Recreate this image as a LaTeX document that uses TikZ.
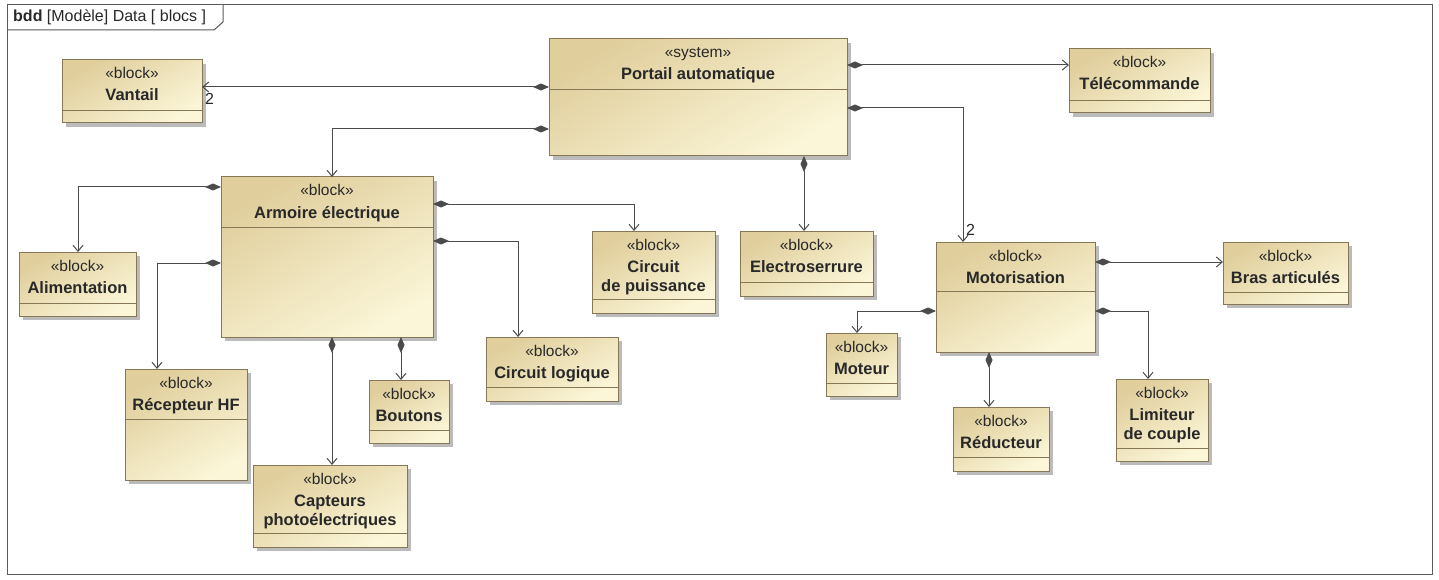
\documentclass[tikz,border=0pt]{standalone}
\usepackage{fontspec}
\setmainfont{Liberation Sans}
\usetikzlibrary{arrows.meta,shadows,fit,calc}
\definecolor{tanL}{RGB}{224,206,156}
\definecolor{creamR}{RGB}{251,246,216}
\definecolor{bordc}{RGB}{135,120,85}
\definecolor{linec}{RGB}{75,75,75}
\definecolor{framec}{RGB}{90,90,90}
\definecolor{shadc}{RGB}{170,170,170}
\definecolor{txtc}{RGB}{40,40,40}
\tikzset{
  blockbox/.style={draw=bordc, line width=1pt, left color=tanL, right color=creamR, shading angle=30,
    inner sep=0pt, outer sep=0pt,
    drop shadow={shadow xshift=4pt, shadow yshift=-4pt, fill=shadc, opacity=0.8}},
  compline/.style={draw=bordc, line width=0.9pt},
  stereo/.style={anchor=base, inner sep=0pt, font=\fontsize{15.5}{18}\selectfont, text=txtc},
  nm/.style={anchor=base, inner sep=0pt, font=\fontsize{16.5}{19}\selectfont\bfseries, text=txtc},
  comp/.style={draw=linec, line width=1pt, {Diamond[length=16pt,width=7pt]}-{Straight Barb[length=6pt,width=10pt]}},
  mult/.style={inner sep=0pt, font=\fontsize{16}{18}\selectfont, text=txtc}
}
\newcommand\mkblock[7]{%
  \node[blockbox, fit={(#2,#3) (#4,#5)}] (#1) {};
  \draw[compline] (#2,#6) -- (#4,#6);
  \node[stereo] (#1-st) at ($(#1.north)+(0,19)$) {«#7»};
}
\begin{document}
\begin{tikzpicture}[x=1pt,y=-1pt]
\useasboundingbox (0,0) rectangle (1439,580);
\fill[white] (0,0) rectangle (1439,580);
% frame
\draw[framec, line width=1pt] (7,5) rectangle (1432,574);
\draw[framec, line width=1pt] (7,30) -- (214,30) -- (223,22) -- (223,5);
\node[anchor=base west, inner sep=0pt, font=\fontsize{16}{18}\selectfont, text=txtc] (title) at (13,22) {\textbf{bdd} [Modèle] Data [ blocs ]};

% blocks
\mkblock{vantail}{62}{60}{202}{123}{110}{block}
\node[nm] (vantail-nm) at ($(vantail.north)+(0,41)$) {Vantail};
\mkblock{portail}{549}{39}{847}{156}{89}{system}
\node[nm] (portail-nm) at ($(portail.north)+(0,41)$) {Portail automatique};
\mkblock{telecommande}{1069}{49}{1210}{113}{100}{block}
\node[nm] (telecommande-nm) at ($(telecommande.north)+(0,41)$) {Télécommande};
\mkblock{armoire}{221}{177}{433}{337}{227}{block}
\node[nm] (armoire-nm) at ($(armoire.north)+(0,41)$) {Armoire électrique};
\mkblock{alimentation}{19}{252}{136}{316}{303}{block}
\node[nm] (alimentation-nm) at ($(alimentation.north)+(0,41)$) {Alimentation};
\mkblock{puissance}{592}{231}{715}{313}{299}{block}
\node[nm] (puissance-nm) at ($(puissance.north)+(0,41)$) {Circuit};
\node[nm] (puissance-nm2) at ($(puissance.north)+(0,60)$) {de puissance};
\mkblock{electroserrure}{740}{231}{873}{296}{282}{block}
\node[nm] (electroserrure-nm) at ($(electroserrure.north)+(0,41)$) {Electroserrure};
\mkblock{motorisation}{936}{242}{1095}{352}{291}{block}
\node[nm] (motorisation-nm) at ($(motorisation.north)+(0,41)$) {Motorisation};
\mkblock{bras}{1223}{242}{1348}{304}{292}{block}
\node[nm] (bras-nm) at ($(bras.north)+(0,41)$) {Bras articulés};
\mkblock{recepteur}{125}{369}{247}{480}{419}{block}
\node[nm] (recepteur-nm) at ($(recepteur.north)+(0,41)$) {Récepteur HF};
\mkblock{boutons}{369}{380}{449}{443}{430}{block}
\node[nm] (boutons-nm) at ($(boutons.north)+(0,41)$) {Boutons};
\mkblock{logique}{486}{337}{618}{401}{387}{block}
\node[nm] (logique-nm) at ($(logique.north)+(0,41)$) {Circuit logique};
\mkblock{capteurs}{253}{465}{407}{547}{533}{block}
\node[nm] (capteurs-nm) at ($(capteurs.north)+(0,41)$) {Capteurs};
\node[nm] (capteurs-nm2) at ($(capteurs.north)+(0,60)$) {photoélectriques};
\mkblock{moteur}{826}{333}{897}{396}{383}{block}
\node[nm] (moteur-nm) at ($(moteur.north)+(0,41)$) {Moteur};
\mkblock{reducteur}{953}{407}{1049}{471}{457}{block}
\node[nm] (reducteur-nm) at ($(reducteur.north)+(0,41)$) {Réducteur};
\mkblock{limiteur}{1116}{379}{1208}{461}{448}{block}
\node[nm] (limiteur-nm) at ($(limiteur.north)+(0,41)$) {Limiteur};
\node[nm] (limiteur-nm2) at ($(limiteur.north)+(0,60)$) {de couple};

% connectors
\draw[comp] (portail.west |- 0,87) -- (vantail.east |- 0,87);
\node[mult, anchor=north west] (m-vantail) at (205,93) {2};
\draw[comp] (portail.west |- 0,129) -| (armoire.north -| 332,0);
\draw[comp] (portail.east |- 0,65) -- (telecommande.west |- 0,65);
\draw[comp] (portail.east |- 0,108) -| (motorisation.north -| 963,0);
\node[mult, anchor=south west] (m-motor) at (966,236) {2};
\draw[comp] (portail.south -| 804,0) -- (electroserrure.north -| 804,0);
\draw[comp] (armoire.west |- 0,187) -| (alimentation.north -| 78,0);
\draw[comp] (armoire.west |- 0,263) -| (recepteur.north -| 157,0);
\draw[comp] (armoire.east |- 0,204) -| (puissance.north -| 634,0);
\draw[comp] (armoire.east |- 0,241) -| (logique.north -| 518,0);
\draw[comp] (armoire.south -| 332,0) -- (capteurs.north -| 332,0);
\draw[comp] (armoire.south -| 401,0) -- (boutons.north -| 401,0);
\draw[comp] (motorisation.west |- 0,311) -| (moteur.north -| 857,0);
\draw[comp] (motorisation.east |- 0,262) -- (bras.west |- 0,262);
\draw[comp] (motorisation.east |- 0,311) -| (limiteur.north -| 1148,0);
\draw[comp] (motorisation.south -| 989,0) -- (reducteur.north -| 989,0);
\end{tikzpicture}
\end{document}
